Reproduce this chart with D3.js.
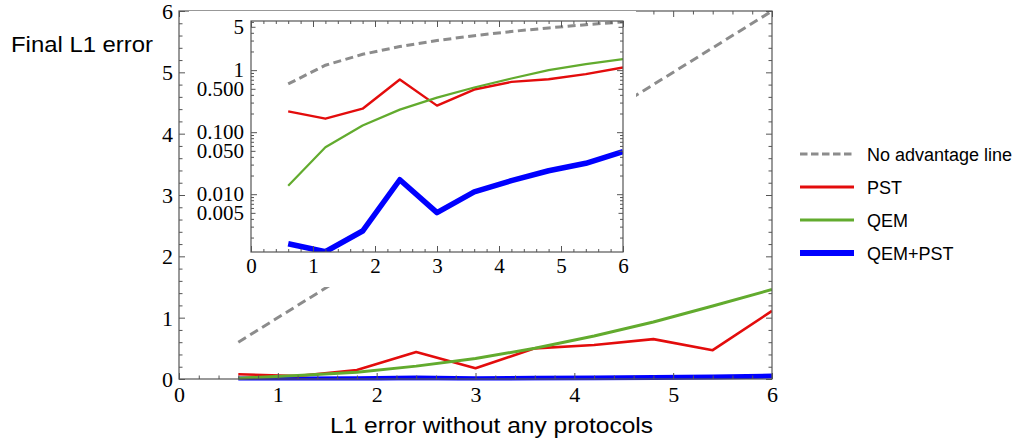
<!DOCTYPE html>
<html>
<head>
<meta charset="utf-8">
<script src="https://cdn.jsdelivr.net/npm/d3@7"></script>
<style>
  body { margin: 0; background: #fff; }
  svg { display: block; }
  .tick text { font-family: "Liberation Serif", "Times New Roman", serif; fill: #000; }
  .title { font-family: "Liberation Sans", Arial, Helvetica, sans-serif; fill: #000; }
</style>
</head>
<body>
<div id="chartDiv"></div>
<script>
// x positions (L1 error without protocols)
const xValues = [0.6, 1.2, 1.8, 2.4, 3.0, 3.6, 4.2, 4.8, 5.4, 6.0];
const noAdvantage = [0.6, 1.2, 1.8, 2.4, 3.0, 3.6, 4.2, 4.8, 5.4, 6.0];

// main (linear) panel
const pstMain = [0.077, 0.05, 0.147, 0.44, 0.175, 0.50, 0.555, 0.65, 0.47, 1.11];
const qemMain = [0.014, 0.057, 0.11, 0.21, 0.335, 0.50, 0.70, 0.93, 1.19, 1.46];
const qemPstMain = [0.0016, 0.0012, 0.0026, 0.017, 0.005, 0.011, 0.0165, 0.024, 0.0315, 0.049];

// inset (log) panel
const pstInset = [0.216, 0.165, 0.239, 0.707, 0.268, 0.487, 0.646, 0.715, 0.861, 1.106];
const qemInset = [0.0137, 0.0571, 0.128, 0.231, 0.361, 0.525, 0.733, 1.0, 1.25, 1.51];
const qemPstInset = [0.00159, 0.00118, 0.00255, 0.0171, 0.00505, 0.0109, 0.0165, 0.0239, 0.0315, 0.0487];

const linearTicks = [0, 1, 2, 3, 4, 5, 6];
const insetLogTicks = [0.005, 0.01, 0.05, 0.1, 0.5, 1, 5];
const insetLogLabels = ['0.005', '0.010', '0.050', '0.100', '0.500', '1', '5'];

const legendNames = ['No advantage line', 'PST', 'QEM', 'QEM+PST'];

const W = 1021, H = 442;
const frameColor = '#555';
const colors = { dash: '#8c8c8c', pst: '#e30c0c', qem: '#62ab2e', both: '#0000ff' };

const svg = d3.select('#chartDiv').append('svg')
    .attr('width', W)
    .attr('height', H);

const zip = ys => xValues.map((x, i) => [x, ys[i]]);

function minorSteps(lo, hi, step) {
    const out = [];
    for (let i = Math.round(lo / step); i * step <= hi + 1e-9; i++) {
        const v = +(i * step).toFixed(6);
        if (Math.abs(v - Math.round(v)) > 1e-6) out.push(v);
    }
    return out;
}

function frameAxes(g, x, y, w, h, opts) {
    // inward ticks on all four sides, like a Mathematica frame
    const mk = (axisFn, scale, ticks, size, labels) => {
        const a = axisFn(scale).tickValues(ticks).tickSizeInner(-size).tickSizeOuter(0);
        return labels ? a.tickFormat(labels) : a.tickFormat('');
    };
    const sides = [
        { fn: d3.axisBottom, s: x, t: `translate(0,${h})`, major: opts.xMajor, minor: opts.xMinor, lab: opts.xLabel },
        { fn: d3.axisTop, s: x, t: 'translate(0,0)', major: opts.xMajor, minor: opts.xMinor },
        { fn: d3.axisLeft, s: y, t: 'translate(0,0)', major: opts.yMajor, minor: opts.yMinor, lab: opts.yLabel },
        { fn: d3.axisRight, s: y, t: `translate(${w},0)`, major: opts.yMajor, minor: opts.yMinor }
    ];
    sides.forEach(sd => {
        g.append('g').attr('transform', sd.t)
            .call(mk(sd.fn, sd.s, sd.minor, opts.minorLen))
            .call(a => a.select('.domain').remove());
        if (opts.midTicks && (sd.fn === d3.axisLeft || sd.fn === d3.axisRight)) {
            g.append('g').attr('transform', sd.t)
                .call(mk(sd.fn, sd.s, opts.midTicks, opts.midLen))
                .call(a => a.select('.domain').remove());
        }
        const ax = g.append('g').attr('transform', sd.t)
            .call(mk(sd.fn, sd.s, sd.major, opts.majorLen, sd.lab))
            .call(a => a.select('.domain').remove());
        ax.selectAll('.tick text').attr('font-size', opts.fontSize);
        if (sd.fn === d3.axisBottom) ax.selectAll('.tick text').attr('dy', null).attr('y', opts.xLabelY);
        if (sd.fn === d3.axisLeft) ax.selectAll('.tick text').attr('x', -opts.yLabelGap).attr('dy', '0.34em');
    });
    g.selectAll('.tick line').attr('stroke', frameColor).attr('stroke-width', 1);
    g.append('rect')
        .attr('width', w).attr('height', h)
        .attr('fill', 'none')
        .attr('stroke', frameColor)
        .attr('stroke-width', 1.2);
}

// ---------- main panel ----------
const main = { left: 179, top: 11, width: 593, height: 368 };
const x = d3.scaleLinear().domain([0, 6]).range([0, main.width]);
const y = d3.scaleLinear().domain([0, 6]).range([main.height, 0]);

const gMain = svg.append('g').attr('transform', `translate(${main.left},${main.top})`);

svg.append('clipPath').attr('id', 'clipMain')
    .append('rect').attr('x', 0).attr('y', 0).attr('width', main.width).attr('height', main.height + 1.5);

const line = d3.line().x(d => x(d[0])).y(d => y(d[1]));
const plotMain = gMain.append('g').attr('clip-path', 'url(#clipMain)');

plotMain.append('path').datum(zip(noAdvantage))
    .attr('fill', 'none').attr('stroke', colors.dash).attr('stroke-width', 3)
    .attr('stroke-dasharray', '9,5').attr('d', line);
plotMain.append('path').datum(zip(qemPstMain))
    .attr('fill', 'none').attr('stroke', colors.both).attr('stroke-width', 5)
    .attr('stroke-linejoin', 'round').attr('d', line);
plotMain.append('path').datum(zip(pstMain))
    .attr('fill', 'none').attr('stroke', colors.pst).attr('stroke-width', 2.6)
    .attr('stroke-linejoin', 'round').attr('d', line);
plotMain.append('path').datum(zip(qemMain))
    .attr('fill', 'none').attr('stroke', colors.qem).attr('stroke-width', 3)
    .attr('stroke-linejoin', 'round').attr('d', line);

frameAxes(gMain, x, y, main.width, main.height, {
    xMajor: linearTicks, xMinor: minorSteps(0, 6, 0.2),
    yMajor: linearTicks, yMinor: minorSteps(0, 6, 0.2),
    xLabel: d3.format('d'), yLabel: d3.format('d'),
    majorLen: 6, minorLen: 3.5, fontSize: 22, xLabelY: 23, yLabelGap: 6
});

// ---------- inset ----------
const inset = { left: 251, top: 21, width: 372, height: 231 };
const xi = d3.scaleLinear().domain([0, 6]).range([0, inset.width]);
const yi = d3.scaleLog().domain([0.00117, 6.2]).range([inset.height, 0]);

const gInset = svg.append('g').attr('transform', `translate(${inset.left},${inset.top})`);
gInset.append('rect')
    .attr('x', -62).attr('y', -10)
    .attr('width', inset.width + 75).attr('height', inset.height + 45)
    .attr('fill', '#fff');

svg.append('clipPath').attr('id', 'clipInset')
    .append('rect').attr('width', inset.width).attr('height', inset.height);

const lineI = d3.line().x(d => xi(d[0])).y(d => yi(d[1]));
const plotInset = gInset.append('g').attr('clip-path', 'url(#clipInset)');

plotInset.append('path').datum(zip(noAdvantage))
    .attr('fill', 'none').attr('stroke', colors.dash).attr('stroke-width', 3)
    .attr('stroke-dasharray', '8,4.5').attr('d', lineI);
plotInset.append('path').datum(zip(pstInset))
    .attr('fill', 'none').attr('stroke', colors.pst).attr('stroke-width', 2.4)
    .attr('stroke-linejoin', 'round').attr('d', lineI);
plotInset.append('path').datum(zip(qemInset))
    .attr('fill', 'none').attr('stroke', colors.qem).attr('stroke-width', 2.2)
    .attr('stroke-linejoin', 'round').attr('d', lineI);
plotInset.append('path').datum(zip(qemPstInset))
    .attr('fill', 'none').attr('stroke', colors.both).attr('stroke-width', 5.5)
    .attr('stroke-linejoin', 'round').attr('d', lineI);

// log minor ticks: 2..9 x 10^k inside the domain
const logMinor = [];
[-3, -2, -1, 0].forEach(k => {
    for (let m = 2; m <= 9; m++) {
        const v = m * Math.pow(10, k);
        if (v >= yi.domain()[0] && v <= yi.domain()[1] && m !== 5) logMinor.push(v);
    }
});

frameAxes(gInset, xi, yi, inset.width, inset.height, {
    xMajor: linearTicks, xMinor: minorSteps(0, 6, 0.2),
    yMajor: [0.01, 0.1, 1], yMinor: logMinor,
    midTicks: [0.005, 0.05, 0.5, 5], midLen: 4.5,
    xLabel: d3.format('d'), yLabel: null,
    majorLen: 6, minorLen: 3, fontSize: 21, xLabelY: 21, yLabelGap: 7
});

// log axis labels (labelled ticks include the 5s)
gInset.append('g')
    .selectAll('text')
    .data(insetLogTicks)
    .enter().append('text')
    .attr('class', 'tick-label')
    .attr('x', -7)
    .attr('y', d => yi(d))
    .attr('dy', '0.34em')
    .attr('text-anchor', 'end')
    .attr('font-family', '"Liberation Serif", "Times New Roman", serif')
    .attr('font-size', 21)
    .text((d, i) => insetLogLabels[i]);

// ---------- titles ----------
svg.append('text').attr('class', 'title')
    .attr('x', 11).attr('y', 52)
    .attr('font-size', 22)
    .attr('textLength', 142).attr('lengthAdjust', 'spacingAndGlyphs')
    .text('Final L1 error');

svg.append('text').attr('class', 'title')
    .attr('x', 330).attr('y', 433)
    .attr('font-size', 22)
    .attr('textLength', 323).attr('lengthAdjust', 'spacingAndGlyphs')
    .text('L1 error without any protocols');

// ---------- legend ----------
const legendStyle = [
    { c: colors.dash, w: 3, dash: '7.5,3.5' },
    { c: colors.pst, w: 3, dash: null },
    { c: colors.qem, w: 3, dash: null },
    { c: colors.both, w: 6, dash: null }
];
const legend = svg.append('g').attr('transform', 'translate(800,154)');
const rows = legend.selectAll('.row')
    .data(legendNames)
    .enter().append('g')
    .attr('transform', (d, i) => `translate(0,${i * 33})`);
rows.append('line')
    .attr('x1', 0).attr('x2', 54)
    .attr('stroke', (d, i) => legendStyle[i].c)
    .attr('stroke-width', (d, i) => legendStyle[i].w)
    .attr('stroke-dasharray', (d, i) => legendStyle[i].dash);
rows.append('text').attr('class', 'title')
    .attr('x', 67).attr('y', 6.5)
    .attr('font-size', 18)
    .text(d => d);
</script>
</body>
</html>
